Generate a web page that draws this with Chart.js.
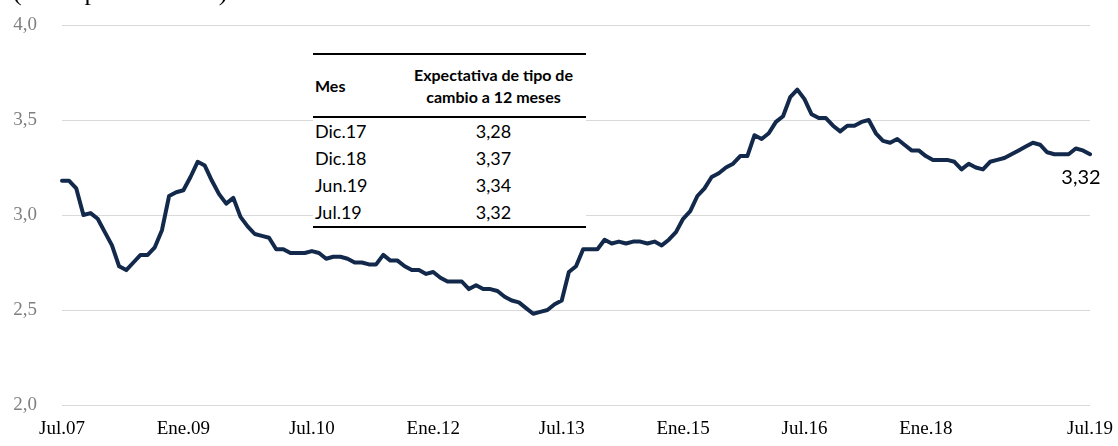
<!DOCTYPE html>
<html>
<head>
<meta charset="utf-8">
<script src="https://cdn.jsdelivr.net/npm/chart.js@4"></script>
<style>
  html, body { margin: 0; padding: 0; background: #fff; }
  #wrap { position: relative; width: 1118px; height: 446px; }
  #tabla { position: absolute; left: 313px; top: 53px; width: 273px; background: #fff; }
  #tabla table { border-collapse: collapse; width: 273px; font-family: Lato, sans-serif; color: #000; }
  #tabla th { font-weight: bold; font-size: 16px; line-height: 22px; padding: 0; }
  #tabla td { font-size: 18px; height: 27px; padding: 0; line-height: 27px; }
</style>
</head>
<body>
<div id="wrap">
  <canvas id="tcChart" width="1118" height="446"></canvas>
  <div id="tabla"></div>
</div>
<script>
// Expectativa de tipo de cambio a 12 meses, mensual Jul.07 - Jul.19
const expectativa = [
  3.18, 3.18, 3.14, 3.00, 3.01, 2.98, 2.91, 2.84, 2.73, 2.71, 2.75, 2.79,
  2.79, 2.83, 2.92, 3.10, 3.12, 3.13, 3.20, 3.28, 3.26, 3.18, 3.11, 3.06,
  3.09, 2.99, 2.94, 2.90, 2.89, 2.88, 2.82, 2.82, 2.80, 2.80, 2.80, 2.81,
  2.80, 2.77, 2.78, 2.78, 2.77, 2.75, 2.75, 2.74, 2.74, 2.79, 2.76, 2.76,
  2.73, 2.71, 2.71, 2.69, 2.70, 2.67, 2.65, 2.65, 2.65, 2.61, 2.63, 2.61,
  2.61, 2.60, 2.57, 2.55, 2.54, 2.51, 2.48, 2.49, 2.50, 2.53, 2.55, 2.70,
  2.73, 2.82, 2.82, 2.82, 2.87, 2.85, 2.86, 2.85, 2.86, 2.86, 2.85, 2.86,
  2.84, 2.87, 2.91, 2.98, 3.02, 3.10, 3.14, 3.20, 3.22, 3.25, 3.27, 3.31,
  3.31, 3.42, 3.40, 3.43, 3.49, 3.52, 3.62, 3.66, 3.61, 3.53, 3.51, 3.51,
  3.47, 3.44, 3.47, 3.47, 3.49, 3.50, 3.43, 3.39, 3.38, 3.40, 3.37, 3.34,
  3.34, 3.31, 3.29, 3.29, 3.29, 3.28, 3.24, 3.27, 3.25, 3.24, 3.28, 3.29,
  3.30, 3.32, 3.34, 3.36, 3.38, 3.37, 3.33, 3.32, 3.32, 3.32, 3.35, 3.34,
  3.32
];

const nombresMes = ['Ene', 'Feb', 'Mar', 'Abr', 'May', 'Jun', 'Jul', 'Ago', 'Set', 'Oct', 'Nov', 'Dic'];

// etiquetas del eje x tal como aparecen en el grafico
const etiquetasX = ['Jul.07', 'Ene.09', 'Jul.10', 'Ene.12', 'Jul.13', 'Ene.15', 'Jul.16', 'Ene.18', 'Jul.19'];
const posEtiquetasX = [0, 17, 35, 52, 70, 87, 104, 121, 144];

// tabla
const tablaMes = ['Dic.17', 'Dic.18', 'Jun.19', 'Jul.19'];
const tablaValor = ['3,28', '3,37', '3,34', '3,32'];

// categorias mensuales
const meses = [];
for (let i = 0; i < expectativa.length; i++) {
    const m = (6 + i) % 12;
    const anio = 7 + Math.floor((6 + i) / 12);
    meses.push(nombresMes[m] + '.' + String(anio).padStart(2, '0'));
}

function fmt(v) {
    return v.toFixed(1).replace('.', ',');
}

// tabla en html
(function() {
    let html = '<table><tr style="height:63px;border-top:2px solid #000;border-bottom:2px solid #000">' +
        '<th style="text-align:left;padding-left:2px;width:86px">Mes</th>' +
        '<th style="text-align:center">Expectativa de tipo de<br>cambio a 12 meses</th></tr>';
    for (let i = 0; i < tablaMes.length; i++) {
        const ultimo = i === tablaMes.length - 1;
        html += '<tr' + (ultimo ? ' style="border-bottom:2px solid #000"' : '') + '>' +
            '<td style="text-align:left;padding-left:2px">' + tablaMes[i] + '</td>' +
            '<td style="text-align:center">' + tablaValor[i] + '</td></tr>';
    }
    html += '</table>';
    document.getElementById('tabla').innerHTML = html;
})();

// subtitulo (cortado arriba) y etiqueta del ultimo dato
const extras = {
    id: 'extras',
    afterDatasetsDraw(chart) {
        const ctx = chart.ctx;
        ctx.save();
        ctx.fillStyle = '#000';
        ctx.font = '26px "Liberation Serif", serif';
        ctx.textAlign = 'left';
        ctx.textBaseline = 'alphabetic';
        ctx.fillText('(Soles por US dólar)', 13, -0.5);

        const meta = chart.getDatasetMeta(0);
        const last = meta.data[meta.data.length - 1];
        ctx.font = '20px Lato, sans-serif';
        ctx.textAlign = 'center';
        ctx.textBaseline = 'middle';
        ctx.fillText(expectativa[expectativa.length - 1].toFixed(2).replace('.', ','), last.x - 9, last.y + 23);
        ctx.restore();
    }
};

const ctx = document.getElementById('tcChart').getContext('2d');
new Chart(ctx, {
    type: 'line',
    data: {
        labels: meses,
        datasets: [{
            label: 'Expectativa de tipo de cambio a 12 meses',
            data: expectativa,
            borderColor: '#13294b',
            borderWidth: 4,
            borderJoinStyle: 'round',
            borderCapStyle: 'round',
            pointRadius: 0,
            tension: 0,
            fill: false
        }]
    },
    options: {
        responsive: false,
        animation: false,
        layout: {
            padding: { top: 25, right: 26, bottom: 0, left: 0 }
        },
        scales: {
            x: {
                grid: { display: false },
                border: { display: false },
                afterBuildTicks: function(scale) {
                    scale.ticks = posEtiquetasX.map(function(v) { return { value: v }; });
                },
                afterFit: function(scale) {
                    scale.height = 41;
                },
                ticks: {
                    autoSkip: false,
                    maxRotation: 0,
                    padding: 5,
                    color: '#000',
                    font: { family: '"Liberation Serif", serif', size: 19 },
                    callback: function(value, index) {
                        return etiquetasX[index];
                    }
                }
            },
            y: {
                min: 2,
                max: 4,
                border: { display: false },
                grid: { color: '#d9d9d9', lineWidth: 1, drawTicks: false },
                afterFit: function(scale) {
                    scale.width = 62;
                    scale.paddingTop = 0;
                    scale.paddingBottom = 0;
                },
                ticks: {
                    stepSize: 0.5,
                    padding: 25,
                    color: '#7f7f7f',
                    font: { family: '"Liberation Serif", serif', size: 19 },
                    callback: function(value) {
                        return fmt(value);
                    }
                }
            }
        },
        plugins: {
            legend: { display: false },
            tooltip: { enabled: false }
        }
    },
    plugins: [extras]
});
</script>
</body>
</html>
